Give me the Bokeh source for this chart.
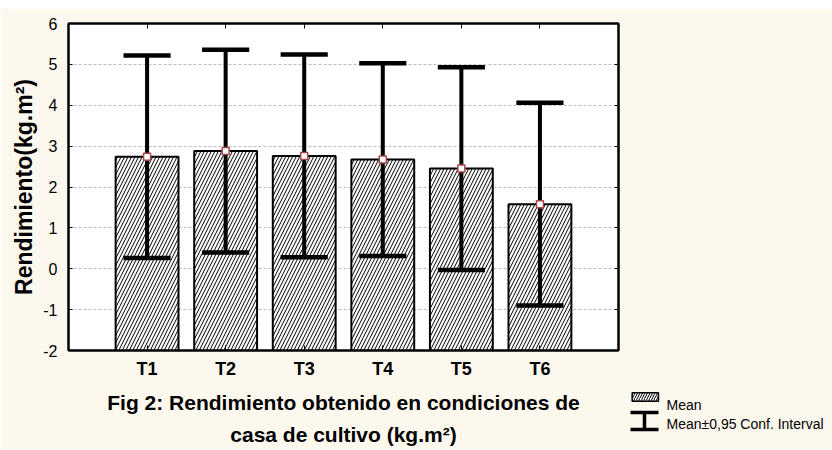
from bokeh.plotting import figure
from bokeh.layouts import column
from bokeh.models import FixedTicker, LinearAxis, Range1d, ColumnDataSource, Spacer
from bokeh.core.properties import value
from bokeh.embed import file_html
from bokeh.resources import INLINE

# ---- data ----
categories = ["T1", "T2", "T3", "T4", "T5", "T6"]
means = [2.74, 2.88, 2.76, 2.67, 2.45, 1.58]
ci_upper = [5.22, 5.36, 5.24, 5.03, 4.93, 4.06]
ci_lower = [0.26, 0.40, 0.28, 0.31, -0.03, -0.90]
y_ticks = [-2, -1, 0, 1, 2, 3, 4, 5, 6]
y_tick_labels = ["-2", "-1", "0", "1", "2", "3", "4", "5", "6"]
legend_labels = ["Mean", "Mean\u00b10,95 Conf. Interval"]

FONT = "Liberation Sans"
CREAM = "#fdf8ee"
MARK_RED = "#a84848"

# layout constants (pixels)
TOP_GAP = 8
B_LEFT, B_TOP, B_RIGHT, B_BOTTOM = 68, 15, 214, 100
FW, FH = 550, 327

xpos = [i + 1 for i in range(len(categories))]
cap_half = 0.3
src = ColumnDataSource(dict(
    x=xpos, mean=means, up=ci_upper, lo=ci_lower,
    cx0=[x - cap_half for x in xpos], cx1=[x + cap_half for x in xpos],
))

p = figure(frame_width=FW, frame_height=FH,
           x_range=Range1d(0, len(categories) + 1), y_range=Range1d(-2, 6),
           output_backend="svg", toolbar_location=None,
           min_border_left=B_LEFT, min_border_right=B_RIGHT,
           min_border_top=B_TOP, min_border_bottom=B_BOTTOM)
p.background_fill_color = "white"
p.border_fill_color = CREAM
p.outline_line_color = "black"
p.outline_line_width = 2

# pixel-like ranges for the legend outside the frame (page coordinates)
frame_top = TOP_GAP + B_TOP
p.extra_x_ranges = {"px": Range1d(B_LEFT, B_LEFT + FW)}
p.extra_y_ranges = {"px": Range1d(frame_top + FH, frame_top)}

# grid
p.xgrid.visible = False
p.ygrid.ticker = FixedTicker(ticks=y_ticks)
p.ygrid.grid_line_color = "#bdbdbd"
p.ygrid.grid_line_dash = "3 2"
p.ygrid.grid_line_width = 1

# bars
p.vbar(x="x", top="mean", bottom=-2, width=0.8, source=src,
       fill_color="white", line_color="black", line_width=2,
       hatch_pattern="/", hatch_color="black", hatch_scale=7, hatch_weight=1)

# error bars
p.segment(x0="x", y0="lo", x1="x", y1="up", source=src,
          line_color="black", line_width=4)
p.segment(x0="cx0", y0="up", x1="cx1", y1="up", source=src,
          line_color="black", line_width=4.5)
p.segment(x0="cx0", y0="lo", x1="cx1", y1="lo", source=src,
          line_color="black", line_width=4.5)

# mean markers
p.scatter(x="x", y="mean", source=src, marker="square", size=7,
          fill_color="white", line_color=MARK_RED, line_width=1.5)

# axes
overrides = {x: c for x, c in zip(xpos, categories)}
xa = p.xaxis[0]
xa.ticker = FixedTicker(ticks=xpos)
xa.major_label_overrides = overrides
xa.major_label_text_font = FONT
xa.major_label_text_font_style = "bold"
xa.major_label_text_font_size = "18px"
xa.major_label_text_color = "black"
xa.major_label_standoff = 8
xa.major_tick_in = 5
xa.major_tick_out = 0
xa.minor_tick_line_color = None
xa.axis_line_width = 2
xa.axis_label = "Fig 2: Rendimiento obtenido en condiciones de\ncasa de cultivo (kg.m\u00b2)"
xa.axis_label_text_font = FONT
xa.axis_label_text_font_style = "bold"
xa.axis_label_text_font_size = "21px"
xa.axis_label_text_color = "black"
xa.axis_label_text_line_height = 1.4
xa.axis_label_standoff = 9

ya = p.yaxis[0]
ya.ticker = FixedTicker(ticks=y_ticks)
ya.major_label_overrides = {t: s for t, s in zip(y_ticks, y_tick_labels)}
ya.major_label_text_font = FONT
ya.major_label_text_font_size = "16px"
ya.major_label_text_color = "black"
ya.major_label_standoff = 11
ya.major_tick_in = 4
ya.major_tick_out = 0
ya.minor_tick_line_color = None
ya.axis_line_width = 2
ya.axis_label = "Rendimiento(kg.m\u00b2)"
ya.axis_label_text_font = FONT
ya.axis_label_text_font_style = "bold"
ya.axis_label_text_font_size = "23px"
ya.axis_label_text_color = "black"
ya.axis_label_standoff = 3

# tick-only mirror axes (no labels)
top = LinearAxis(ticker=FixedTicker(ticks=xpos), major_label_text_font_size="0px",
                 major_label_overrides={x: "" for x in xpos},
                 major_tick_in=5, major_tick_out=0, minor_tick_line_color=None,
                 axis_line_width=2, major_label_standoff=0)
p.add_layout(top, "above")
right = LinearAxis(ticker=FixedTicker(ticks=y_ticks), major_label_text_font_size="0px",
                   major_label_overrides={t: "" for t in y_ticks},
                   major_tick_in=4, major_tick_out=0, minor_tick_line_color=None,
                   axis_line_width=2, major_label_standoff=0)
p.add_layout(right, "right")

# ---- legend (drawn in page-pixel ranges, outside the frame) ----
lk = dict(x_range_name="px", y_range_name="px", level="overlay")
p.rect(x=[644.8], y=[396.5], width=[26.3], height=[8.6],
       fill_color="white", line_color="black", line_width=1.5,
       hatch_pattern="/", hatch_color="black", hatch_scale=5, hatch_weight=1, **lk)
p.scatter(x=[642.3], y=[398.5], marker="square", size=6,
          fill_color="white", line_color=MARK_RED, line_width=1.2, **lk)
p.segment(x0=[630, 644, 630], y0=[412, 412, 429], x1=[658, 644, 658], y1=[412, 429, 429],
          line_color="black", line_width=3.5, **lk)
p.text(x=[666, 666], y=[404, 423.5], text=legend_labels,
       text_font=value(FONT), text_font_size="14px", text_color="black",
       text_baseline="alphabetic", text_align="left", **lk)

layout = column(Spacer(height=TOP_GAP, width=B_LEFT + FW + B_RIGHT), p)
open("out.html", "w").write(file_html(layout, INLINE))
